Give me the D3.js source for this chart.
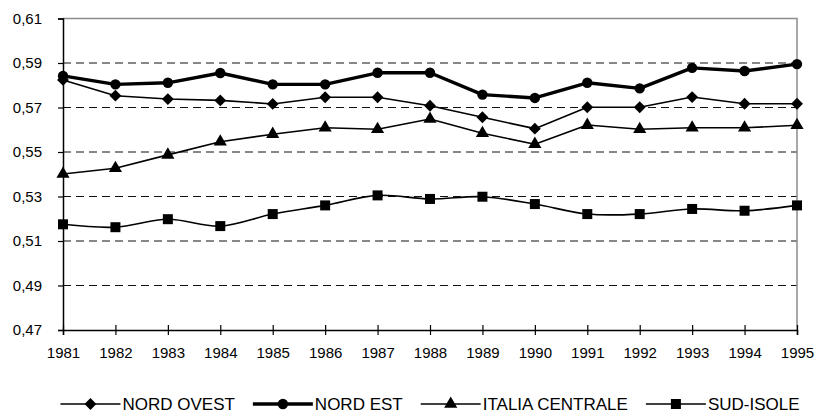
<!DOCTYPE html>
<html><head><meta charset="utf-8">
<script src="https://cdn.jsdelivr.net/npm/d3@7"></script>
<style>body{margin:0;background:#fff}svg{display:block}</style>
</head><body><svg id="chart" width="818" height="414"></svg>
<script>
// Regional values, 1981-1995
const years = [1981,1982,1983,1984,1985,1986,1987,1988,1989,1990,1991,1992,1993,1994,1995];
const nordOvest      = [0.5824,0.5753,0.5738,0.5732,0.5716,0.5746,0.5746,0.5708,0.5656,0.5605,0.5701,0.5701,0.5747,0.5717,0.5717];
const nordEst        = [0.5842,0.5804,0.5811,0.5855,0.5804,0.5804,0.5856,0.5856,0.5758,0.5743,0.5811,0.5786,0.5878,0.5864,0.5895];
const italiaCentrale = [0.5401,0.5427,0.5487,0.5546,0.5580,0.5609,0.5602,0.5648,0.5584,0.5535,0.5621,0.5602,0.5609,0.5609,0.5620];
const sudIsole       = [0.5175,0.5162,0.5198,0.5167,0.5221,0.5260,0.5305,0.5289,0.5299,0.5266,0.5221,0.5221,0.5244,0.5236,0.5260];
const seriesNames = ["NORD OVEST","NORD EST","ITALIA CENTRALE","SUD-ISOLE"];
const yTicks = [0.47,0.49,0.51,0.53,0.55,0.57,0.59,0.61];
const gridTicks = [0.49,0.51,0.53,0.55,0.57,0.59];

const FONT = "'Liberation Sans', Arial, sans-serif";
const svg = d3.select("#chart");
const plotLeft = 63, plotRight = 797, plotTop = 18.5, plotBottom = 330;

const x = d3.scalePoint().domain(years).range([plotLeft, plotRight]);
const y = d3.scaleLinear().domain([0.47, 0.61]).range([plotBottom, plotTop]);
const it = d3.formatLocale({decimal: ",", thousands: ".", grouping: [3], currency: ["", " €"]});
const fmt = it.format(".2f");

// dashed horizontal gridlines
svg.append("g").selectAll("line").data(gridTicks).join("line")
  .attr("x1", plotLeft).attr("x2", plotRight)
  .attr("y1", d => y(d)).attr("y2", d => y(d))
  .attr("stroke", "#111").attr("stroke-width", 1)
  .attr("stroke-dasharray", "8,5");

// grey frame on top and right
svg.append("path")
  .attr("d", `M${plotLeft},${plotTop}H${plotRight}V${plotBottom}`)
  .attr("fill", "none").attr("stroke", "#8c8c8c").attr("stroke-width", 1.5);

// y axis
const gy = svg.append("g").attr("transform", `translate(${plotLeft},0)`)
  .call(d3.axisLeft(y).tickValues(yTicks).tickFormat(fmt).tickSize(5).tickPadding(16));
gy.select(".domain").attr("stroke", "#000").attr("stroke-width", 1.5);
gy.selectAll(".tick line").attr("stroke", "#000").attr("stroke-width", 1.2);
gy.selectAll(".tick text").attr("font-family", FONT).attr("font-size", 15).attr("fill", "#000");

// x axis with crossing ticks
const gx = svg.append("g").attr("transform", `translate(0,${plotBottom})`)
  .call(d3.axisBottom(x).tickSize(5).tickPadding(12));
gx.select(".domain").attr("stroke", "#000").attr("stroke-width", 1.5);
gx.selectAll(".tick line").attr("y1", -5).attr("y2", 5).attr("stroke", "#000").attr("stroke-width", 1.2);
gx.selectAll(".tick text").attr("font-family", FONT).attr("font-size", 15).attr("fill", "#000");

// series definitions
const series = [
  {name: seriesNames[0], values: nordOvest,      width: 1.6, symbol: d3.symbolSquare,   size: 70,  rotate: 45, curve: d3.curveLinear},
  {name: seriesNames[1], values: nordEst,        width: 3.4, symbol: d3.symbolCircle,   size: 85,  rotate: 0,  curve: d3.curveLinear},
  {name: seriesNames[2], values: italiaCentrale, width: 1.6, symbol: d3.symbolTriangle, size: 75,  rotate: 0,  curve: d3.curveLinear},
  {name: seriesNames[3], values: sudIsole,       width: 1.6, symbol: d3.symbolSquare,   size: 100, rotate: 0,  curve: d3.curveCatmullRom.alpha(0)}
];

series.forEach(s => {
  const pts = years.map((yr, i) => [x(yr), y(s.values[i])]);
  svg.append("path")
    .attr("d", d3.line().curve(s.curve)(pts))
    .attr("fill", "none").attr("stroke", "#000").attr("stroke-width", s.width)
    .attr("stroke-linejoin", "round");
  svg.append("g").selectAll("path").data(pts).join("path")
    .attr("d", d3.symbol().type(s.symbol).size(s.size))
    .attr("transform", d => `translate(${d[0]},${d[1]}) rotate(${s.rotate})`)
    .attr("fill", "#000");
});

// legend
const legendY = 404, lineLen = 60, fs = 17, gap = 18;
const leg = svg.append("g");
let cx = 0;
series.forEach(s => {
  const g = leg.append("g").attr("transform", `translate(${cx},0)`);
  g.append("line").attr("x1", 0).attr("x2", lineLen).attr("y1", 0).attr("y2", 0)
    .attr("stroke", "#000").attr("stroke-width", s.width);
  g.append("path").attr("d", d3.symbol().type(s.symbol).size(s.size))
    .attr("transform", `translate(${lineLen/2},0) rotate(${s.rotate})`).attr("fill", "#000");
  const t = g.append("text").attr("x", lineLen + 2).attr("y", 0).attr("dy", "0.36em")
    .attr("font-family", FONT).attr("font-size", fs).text(s.name);
  cx += lineLen + 2 + t.node().getComputedTextLength() + gap;
});
const legW = cx - gap;
leg.attr("transform", `translate(${(plotLeft + plotRight) / 2 - legW / 2},${legendY})`);
</script>
</body></html>
